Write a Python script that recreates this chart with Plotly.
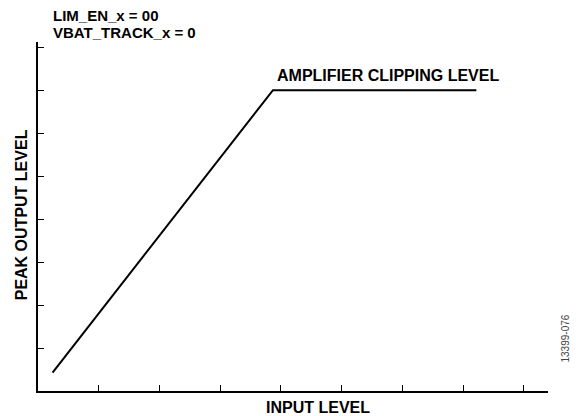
import plotly.graph_objects as go

# transfer curve: linear rise then flat at the amplifier clipping level
input_level = [0.24, 3.87, 7.22]
peak_output = [0.43, 7.0, 7.0]

x_ticks = [1, 2, 3, 4, 5, 6, 7, 8]
y_ticks = [1, 2, 3, 4, 5, 6, 7, 8]

font = "Liberation Sans, Arial, sans-serif"

fig = go.Figure()
fig.add_trace(go.Scatter(x=input_level, y=peak_output, mode="lines",
                         line=dict(color="black", width=2), showlegend=False))

axis_common = dict(showgrid=False, zeroline=False, showticklabels=False,
                   ticks="inside", ticklen=6, tickwidth=1, tickcolor="black",
                   showline=True, linecolor="black", linewidth=2, fixedrange=True)


def label(text, size=16, **kw):
    d = dict(text="<b>%s</b>" % text, showarrow=False, font=dict(size=size))
    d.update(kw)
    return d


fig.update_layout(
    width=576, height=416,
    margin=dict(l=38, r=28, t=42, b=25),
    paper_bgcolor="white", plot_bgcolor="white",
    font=dict(family=font, color="black", size=15),
    xaxis=dict(range=[0, 8.4], tickvals=x_ticks, **axis_common),
    yaxis=dict(range=[0, 8.12], tickvals=y_ticks, **axis_common),
    annotations=[
        label("LIM_EN_x = 00", size=15, xref="x", yref="paper", x=0.22, y=1.077,
              xanchor="left", yanchor="middle"),
        label("VBAT_TRACK_x = 0", size=15, xref="x", yref="paper", x=0.22, y=1.027,
              xanchor="left", yanchor="middle"),
        label("AMPLIFIER CLIPPING LEVEL", xref="x", yref="y", x=3.90, y=7.35,
              xanchor="left", yanchor="middle"),
        label("PEAK OUTPUT LEVEL", xref="paper", yref="paper", x=-0.033, y=0.504,
              xanchor="center", yanchor="middle", textangle=-90),
        label("INPUT LEVEL", xref="paper", yref="paper", x=0.549, y=0,
              xanchor="center", yanchor="middle", yshift=-16),
        dict(text="13399-076", xref="paper", yref="paper", x=1.035, y=0.15,
             xanchor="center", yanchor="middle", textangle=-90, showarrow=False,
             font=dict(size=10, color="#444")),
    ],
)

fig.write_html("out.html", config={"displayModeBar": False},
               post_script="document.body.style.margin='0';")
